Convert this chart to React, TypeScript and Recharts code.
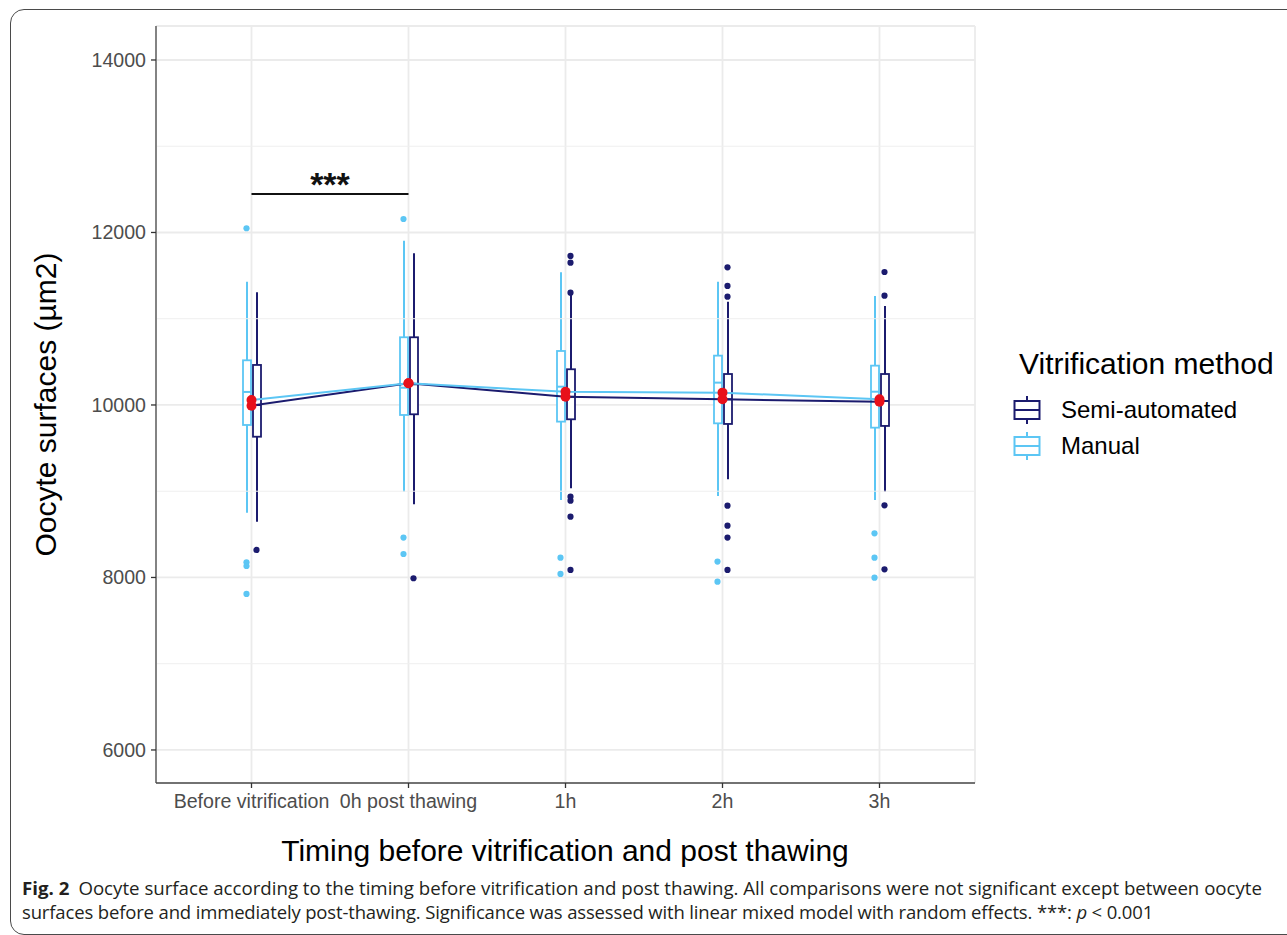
import React from "react";
import {
  ComposedChart,
  Bar,
  Line,
  Scatter,
  XAxis,
  YAxis,
  CartesianGrid,
  ReferenceLine,
} from "recharts";

// Categories on the x axis
const timings = ["Before vitrification", "0h post thawing", "1h", "2h", "3h"];

// Manual vitrification: box statistics (µm2)
const manualLow = [8751, 8995, 8899, 8945, 8899];
const manualQ1 = [9768, 9884, 9807, 9787, 9737];
const manualMedian = [10151, 10200, 10212, 10259, 10154];
const manualQ3 = [10518, 10785, 10626, 10572, 10456];
const manualHigh = [11430, 11905, 11538, 11430, 11264];
const manualMean = [10058, 10251, 10154, 10143, 10065];
const manualOutliers = [
  [12049, 8176, 8133, 7809],
  [12156, 8462, 8272],
  [8230, 8041],
  [8184, 7951],
  [8512, 8230, 7998],
];

// Semi-automated vitrification: box statistics (µm2)
const semiLow = [8647, 8849, 9034, 9138, 8995];
const semiQ1 = [9632, 9892, 9834, 9780, 9757];
const semiMedian = [10000, 10240, 10096, 10066, 10046];
const semiQ3 = [10464, 10785, 10414, 10359, 10359];
const semiHigh = [11307, 11759, 11280, 11198, 11148];
const semiMean = [9992, 10251, 10096, 10066, 10038];
const semiOutliers = [
  [8319],
  [7991],
  [11728, 11650, 11302, 8937, 8890, 8705, 8087],
  [11596, 11380, 11256, 8833, 8601, 8462, 8087],
  [11542, 11267, 8837, 8095],
];

// Axis ticks
const yTicks = [6000, 8000, 10000, 12000, 14000];
const yMinorTicks = [7000, 9000, 11000, 13000];
const yDomain = [5617, 14394];

// Significance bracket
const sigLevel = 12446;
const sigFrom = timings[0];
const sigTo = timings[1];

const NAVY = "#1B1B6E";
const SKY = "#5CC6F4";
const RED = "#E8101A";
const FONT = "'Liberation Sans', Arial, Helvetica, sans-serif";

const rows = timings.map((t, i) => ({
  t,
  mLo: manualLow[i],
  mQ1: manualQ1[i],
  mMed: manualMedian[i],
  mQ3: manualQ3[i],
  mHi: manualHigh[i],
  manualMean: manualMean[i],
  sLo: semiLow[i],
  sQ1: semiQ1[i],
  sMed: semiMedian[i],
  sQ3: semiQ3[i],
  sHi: semiHigh[i],
  semiMean: semiMean[i],
}));

const manualPoints = timings.flatMap((t, i) => manualOutliers[i].map((v) => ({ t, v })));
const semiPoints = timings.flatMap((t, i) => semiOutliers[i].map((v) => ({ t, v })));

// box shape drawn on a range bar [low whisker, high whisker]
const makeBox = (p: "m" | "s", color: string) => (props: any) => {
  const { x, y, width, height, payload } = props;
  const lo = payload[p + "Lo"];
  const hi = payload[p + "Hi"];
  const unit = Math.abs(height) / (hi - lo);
  const top = Math.min(y, y + height);
  const py = (v: number) => top + (hi - v) * unit;
  const cx = x + width / 2;
  const q1 = py(payload[p + "Q1"]);
  const q3 = py(payload[p + "Q3"]);
  const med = py(payload[p + "Med"]);
  return (
    <g>
      <line x1={cx} x2={cx} y1={py(hi)} y2={py(lo)} stroke={color} strokeWidth={2} />
      <rect x={x} y={q3} width={width} height={q1 - q3} fill="#fff" stroke={color} strokeWidth={1.8} />
      <line x1={x} x2={x + width} y1={med} y2={med} stroke={color} strokeWidth={2} />
    </g>
  );
};

const makeDot = (dx: number, color: string) => (props: any) => (
  <circle cx={props.cx + dx} cy={props.cy} r={3.1} fill={color} />
);

const redDot = (props: any) => (
  <circle key={props.index} cx={props.cx} cy={props.cy} r={5} fill={RED} stroke="none" />
);

const KeyGlyph = ({ color }: { color: string }) => (
  <svg width={28} height={30} style={{ display: "block" }}>
    <line x1={14} x2={14} y1={1} y2={6} stroke={color} strokeWidth={2} />
    <rect x={1.5} y={6} width={25} height={18} fill="#fff" stroke={color} strokeWidth={2} />
    <line x1={1.5} x2={26.5} y1={15} y2={15} stroke={color} strokeWidth={2} />
    <line x1={14} x2={14} y1={24} y2={29} stroke={color} strokeWidth={2} />
  </svg>
);

const legendItems = [
  { name: "Semi-automated", color: NAVY },
  { name: "Manual", color: SKY },
];

export default function App() {
  return (
    <div
      style={{
        position: "absolute",
        left: 0,
        top: 0,
        width: 1287,
        height: 935,
        overflow: "hidden",
        background: "#fff",
      }}
    >
      <div
        style={{
          position: "absolute",
          left: 10,
          top: 9,
          width: 1320,
          height: 924,
          border: "1.5px solid #4a4a4a",
          borderRadius: 14,
        }}
      />
      <div style={{ position: "absolute", left: 0, top: 0 }}>
        <ComposedChart
          width={1287}
          height={935}
          data={rows}
          margin={{ top: 26, right: 312, bottom: 122, left: 96 }}
          barSize={8}
          barGap={2}
        >
          <CartesianGrid stroke="#EBEBEB" strokeWidth={1.8} fill="none" />
          {yMinorTicks.map((v) => (
            <ReferenceLine key={v} y={v} stroke="#EFEFEF" strokeWidth={1} />
          ))}
          <XAxis
            dataKey="t"
            type="category"
            allowDuplicatedCategory={false}
            padding={{ left: 17, right: 17 }}
            height={30}
            tickSize={5}
            tickMargin={6}
            axisLine={{ stroke: "#4a4a4a", strokeWidth: 1.3 }}
            tickLine={{ stroke: "#333", strokeWidth: 1.3 }}
            tick={{ fontSize: 19.6, fill: "#4D4D4D", fontFamily: FONT }}
            interval={0}
            label={{
              content: () => (
                <text x={565} y={861} textAnchor="middle" fontSize={30} fontFamily={FONT} fill="#000">
                  Timing before vitrification and post thawing
                </text>
              ),
            }}
          />
          <XAxis
            xAxisId="top"
            dataKey="t"
            orientation="top"
            allowDuplicatedCategory={false}
            height={0}
            tick={false}
            tickLine={false}
            axisLine={{ stroke: "#4a4a4a", strokeWidth: 1.3 }}
          />
          <YAxis
            type="number"
            domain={yDomain}
            ticks={yTicks}
            allowDataOverflow
            width={60}
            tickSize={5}
            tickMargin={5}
            axisLine={{ stroke: "#4a4a4a", strokeWidth: 1.3 }}
            tickLine={{ stroke: "#333", strokeWidth: 1.3 }}
            tick={{ fontSize: 19.6, fill: "#4D4D4D", fontFamily: FONT }}
            label={{
              content: (p: any) => {
                const cy = p.viewBox.y + p.viewBox.height / 2;
                return (
                  <text
                    x={45}
                    y={cy}
                    transform={`rotate(-90 45 ${cy})`}
                    textAnchor="middle"
                    dominantBaseline="central"
                    fontSize={30}
                    fontFamily={FONT}
                    fill="#000"
                  >
                    Oocyte surfaces (µm2)
                  </text>
                );
              },
            }}
          />
          <YAxis
            yAxisId="right"
            orientation="right"
            type="number"
            domain={[0, 1]}
            width={0}
            tick={false}
            tickLine={false}
            axisLine={{ stroke: "#4a4a4a", strokeWidth: 1.3 }}
          />
          <Bar
            dataKey={(d: any) => [d.mLo, d.mHi]}
            name="Manual"
            fill={SKY}
            shape={makeBox("m", SKY)}
            isAnimationActive={false}
          />
          <Bar
            dataKey={(d: any) => [d.sLo, d.sHi]}
            name="Semi-automated"
            fill={NAVY}
            shape={makeBox("s", NAVY)}
            isAnimationActive={false}
          />
          <Line
            dataKey="semiMean"
            stroke={NAVY}
            strokeWidth={2}
            dot={redDot}
            activeDot={false}
            isAnimationActive={false}
          />
          <Line
            dataKey="manualMean"
            stroke={SKY}
            strokeWidth={2}
            dot={redDot}
            activeDot={false}
            isAnimationActive={false}
          />
          <Scatter data={manualPoints} dataKey="v" shape={makeDot(-5, SKY)} isAnimationActive={false} />
          <Scatter data={semiPoints} dataKey="v" shape={makeDot(5, NAVY)} isAnimationActive={false} />
          <ReferenceLine
            segment={[
              { x: sigFrom, y: sigLevel },
              { x: sigTo, y: sigLevel },
            ]}
            stroke="#111"
            strokeWidth={2.2}
            label={{
              content: (p: any) => (
                <text
                  x={p.viewBox.x + p.viewBox.width / 2}
                  y={p.viewBox.y + 2}
                  textAnchor="middle"
                  fontSize={34}
                  fontWeight="bold"
                  fontFamily={FONT}
                  fill="#111"
                >
                  ***
                </text>
              ),
            }}
          />
        </ComposedChart>
      </div>

      {/* legend */}
      <div style={{ position: "absolute", left: 1013, top: 347, fontFamily: FONT, color: "#000" }}>
        <div style={{ fontSize: 30, lineHeight: "34px", marginLeft: 6, marginBottom: 11, whiteSpace: "nowrap" }}>
          Vitrification method
        </div>
        {legendItems.map((it) => (
          <div key={it.name} style={{ display: "flex", alignItems: "center", height: 36 }}>
            <KeyGlyph color={it.color} />
            <span style={{ fontSize: 24, marginLeft: 20, whiteSpace: "nowrap" }}>{it.name}</span>
          </div>
        ))}
      </div>

      <svg
        width={1287}
        height={75}
        style={{ position: "absolute", left: 0, top: 860 }}
        fontFamily="'Open Sans', 'Noto Sans', sans-serif"
        fontSize={18.5}
        fill="#231F20"
      >
        <text x={22} y={35} textLength={1240} lengthAdjust="spacingAndGlyphs">
          <tspan fontWeight="bold">Fig. 2</tspan>
          <tspan dx={9}>
            Oocyte surface according to the timing before vitrification and post thawing. All comparisons were not
            significant except between oocyte
          </tspan>
        </text>
        <text x={22} y={59} letterSpacing={-0.15}>
          surfaces before and immediately post-thawing. Significance was assessed with linear mixed model with
          random effects. ***: <tspan fontStyle="italic">p</tspan>
          {" < 0.001"}
        </text>
      </svg>
    </div>
  );
}
